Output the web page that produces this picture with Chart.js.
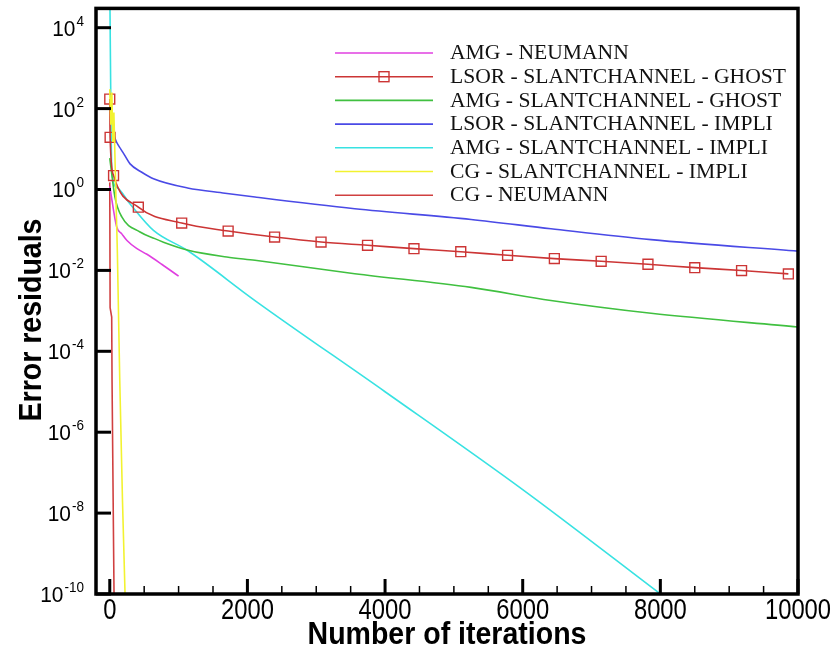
<!DOCTYPE html>
<html>
<head>
<meta charset="utf-8">
<script src="https://cdn.jsdelivr.net/npm/chart.js@4.4.1/dist/chart.umd.min.js"></script>
<style>
    html, body { margin: 0; padding: 0; background: #ffffff; }
    #wrap { width: 840px; height: 652px; }
</style>
</head>
<body>
<div id="wrap"><canvas id="chart" width="840" height="652"></canvas></div>
<script>
// Residual histories (x = iteration, y = residual)
const amgNeumannIter = [0, 100, 175, 250, 390, 540, 760, 1000];
const amgNeumannRes = [1.2, 0.12, 0.08, 0.055, 0.035, 0.025, 0.014, 0.0072];

const lsorGhostIter = [0, 5, 55, 415, 1045, 1720, 2395, 3070, 3745, 4420, 5100, 5780, 6460, 7140, 7820, 8500, 9180, 9860];
const lsorGhostRes = [172, 19.5, 2.21, 0.366, 0.148, 0.094, 0.0667, 0.0502, 0.0417, 0.0345, 0.029, 0.0236, 0.0196, 0.0168, 0.0142, 0.0117, 0.0099, 0.0082];

const amgGhostIter = [0, 75, 175, 440, 655, 780, 1140, 1700, 2110, 3560, 5250, 6410, 7865, 10000];
const amgGhostRes = [6, 0.65, 0.21, 0.089, 0.061, 0.05, 0.0315, 0.0215, 0.0178, 0.0083, 0.0038, 0.0018, 0.00087, 0.0004];

const lsorImpliIter = [60, 100, 160, 220, 295, 465, 635, 1130, 1675, 2110, 3560, 5250, 6410, 7865, 10000];
const lsorImpliRes = [22, 14.7, 10, 6.9, 4.3, 2.67, 1.84, 1.09, 0.81, 0.65, 0.334, 0.182, 0.107, 0.0575, 0.03];

const amgImpliIter = [0, 30, 100, 295, 635, 1130, 2110, 4000, 6000, 8000];
const amgImpliRes = [1e5, 2.9, 1.14, 0.44, 0.098, 0.031, 0.0018, 1e-5, 3.8e-8, 1e-10];

const cgImpliIter = [0, 15, 30, 45, 60, 80, 110, 145, 185, 222];
const cgImpliRes = [300, 40, 250, 15, 80, 3, 0.03, 2e-5, 2e-8, 1e-10];

const cgNeumannIter = [0, 5, 28, 33, 62];
const cgNeumannRes = [1.5, 0.0012, 0.0007, 0.00002, 1e-10];

const seriesLabels = [
    'AMG - NEUMANN',
    'LSOR - SLANTCHANNEL - GHOST',
    'AMG - SLANTCHANNEL - GHOST',
    'LSOR - SLANTCHANNEL - IMPLI',
    'AMG - SLANTCHANNEL - IMPLI',
    'CG - SLANTCHANNEL - IMPLI',
    'CG - NEUMANN'
];

const xMajorTicks = [0, 2000, 4000, 6000, 8000, 10000];
const xMinorStep = 500;
const yTickExponents = [4, 2, 0, -2, -4, -6, -8, -10];

function toPoints(xs, ys) {
    return xs.map((x, i) => ({ x: x, y: ys[i] }));
}

function lineSet(label, xs, ys, color, extra) {
    return Object.assign({
        label: label,
        data: toPoints(xs, ys),
        borderColor: color,
        backgroundColor: color,
        borderWidth: 1.6,
        pointRadius: 0,
        fill: false,
        tension: 0
    }, extra || {});
}

// draws text squeezed horizontally (the original uses a narrow face)
function drawText(ctx, text, x, y, font, sx, align) {
    ctx.save();
    ctx.font = font;
    ctx.textAlign = align || 'left';
    ctx.translate(x, y);
    ctx.scale(sx, 1);
    ctx.fillText(text, 0, 0);
    ctx.restore();
}

const frameAndLabels = {
    id: 'frameAndLabels',
    afterDraw(chart) {
        const ctx = chart.ctx;
        const area = chart.chartArea;
        const xs = chart.scales.x;
        const ys = chart.scales.y;

        ctx.save();
        ctx.fillStyle = '#000';
        ctx.strokeStyle = '#000';

        // frame
        ctx.lineWidth = 3.5;
        ctx.strokeRect(area.left, area.top, area.right - area.left, area.bottom - area.top);

        // y ticks and labels (10 with superscript exponent)
        ctx.textBaseline = 'alphabetic';
        yTickExponents.forEach(e => {
            const py = ys.getPixelForValue(Math.pow(10, e));
            ctx.lineWidth = 3;
            ctx.beginPath();
            ctx.moveTo(area.left, py);
            ctx.lineTo(area.left + 15, py);
            ctx.stroke();

            const expText = e < 0 ? '-' + Math.abs(e) : String(e);
            ctx.font = '15px "Liberation Sans", Arial, sans-serif';
            const expW = ctx.measureText(expText).width * 0.9;
            const right = 84;
            drawText(ctx, expText, right - expW, py - 2, '15px "Liberation Sans", Arial, sans-serif', 0.9, 'left');
            drawText(ctx, '10', right - expW - 1, py + 8, '22px "Liberation Sans", Arial, sans-serif', 0.95, 'right');
        });

        // x ticks (major every 2000, minor every 500) pointing inward
        for (let v = 0; v <= 10000; v += xMinorStep) {
            const px = xs.getPixelForValue(v);
            const major = xMajorTicks.includes(v);
            ctx.lineWidth = major ? 3 : 1.5;
            ctx.beginPath();
            ctx.moveTo(px, area.bottom);
            ctx.lineTo(px, area.bottom - (major ? 15 : 8));
            ctx.stroke();
        }
        xMajorTicks.forEach(v => {
            const px = xs.getPixelForValue(v);
            drawText(ctx, String(v), px, area.bottom + 25, '29px "Liberation Sans", Arial, sans-serif', 0.82, 'center');
        });

        // axis titles
        drawText(ctx, 'Number of iterations', (area.left + area.right) / 2, area.bottom + 50,
            'bold 31px "Liberation Sans", Arial, sans-serif', 0.92, 'center');
        ctx.save();
        ctx.translate(41, 320);
        ctx.rotate(-Math.PI / 2);
        ctx.font = 'bold 31px "Liberation Sans", Arial, sans-serif';
        ctx.textAlign = 'center';
        ctx.scale(0.92, 1);
        ctx.fillText('Error residuals', 0, 0);
        ctx.restore();

        // legend
        const rowY0 = 53;
        const rowStep = 23.7;
        chart.data.datasets.forEach((ds, i) => {
            const y = rowY0 + i * rowStep;
            ctx.strokeStyle = ds.borderColor;
            ctx.lineWidth = 1.6;
            ctx.beginPath();
            ctx.moveTo(335, y);
            ctx.lineTo(433, y);
            ctx.stroke();
            if (ds.pointStyle === 'rect') {
                ctx.lineWidth = 1.4;
                ctx.strokeRect(379, y - 5, 10, 10);
            }
            ctx.fillStyle = '#111';
            ctx.textBaseline = 'middle';
            drawText(ctx, ds.label, 450, y + 1, '20px "Liberation Serif", "Times New Roman", serif', 1.08, 'left');
        });

        ctx.restore();
    }
};

const smooth = { cubicInterpolationMode: 'monotone' };

const datasets = [
    lineSet(seriesLabels[0], amgNeumannIter, amgNeumannRes, '#e040e0', smooth),
    lineSet(seriesLabels[1], lsorGhostIter, lsorGhostRes, '#cc3535', {
        pointStyle: 'rect',
        pointRadius: 7,
        pointBorderWidth: 1.4,
        pointBorderColor: '#cc3535',
        pointBackgroundColor: 'rgba(0,0,0,0)',
        cubicInterpolationMode: 'monotone'
    }),
    lineSet(seriesLabels[2], amgGhostIter, amgGhostRes, '#40c040', smooth),
    lineSet(seriesLabels[3], lsorImpliIter, lsorImpliRes, '#4a4ae6', smooth),
    lineSet(seriesLabels[4], amgImpliIter, amgImpliRes, '#38e2e2', smooth),
    lineSet(seriesLabels[5], cgImpliIter, cgImpliRes, '#f2f230', { order: -1 }),
    lineSet(seriesLabels[6], cgNeumannIter, cgNeumannRes, '#d04040')
];

new Chart(document.getElementById('chart'), {
    type: 'line',
    data: { datasets: datasets },
    options: {
        responsive: false,
        devicePixelRatio: 1,
        animation: false,
        layout: { padding: { left: 96, top: 6, right: 42, bottom: 58 } },
        plugins: {
            legend: { display: false },
            tooltip: { enabled: false }
        },
        scales: {
            x: { type: 'linear', min: -200, max: 10000, display: false },
            y: { type: 'logarithmic', min: 1e-10, max: 3e4, display: false }
        }
    },
    plugins: [frameAndLabels]
});
</script>
</body>
</html>
